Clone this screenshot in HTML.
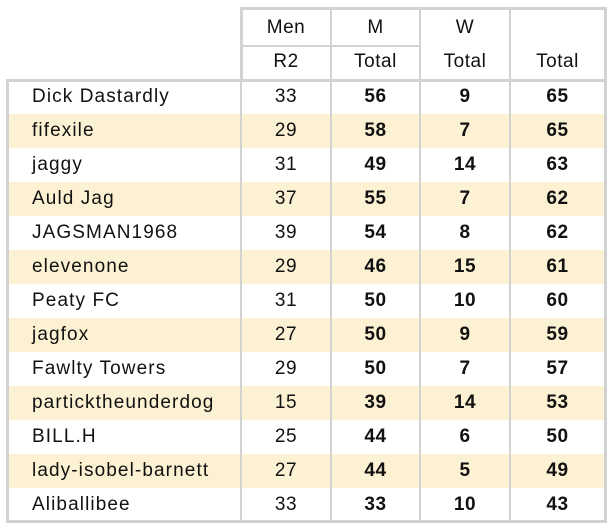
<!DOCTYPE html>
<html><head><meta charset="utf-8"><style>
body{margin:0;width:610px;height:528px;background:#fff;font-family:"Liberation Sans",sans-serif;font-size:19px;color:#111;position:relative;overflow:hidden}
.b{position:absolute;background:#d2d2d2}
.t{position:absolute;height:34px;line-height:34px;text-align:center;letter-spacing:0.5px}
.s{position:absolute;left:9px;width:595px;height:34px;background:#fcf1d2}
.n{position:absolute;left:32px;height:34px;line-height:34px;letter-spacing:1.1px}
.bold{font-weight:bold}
</style></head><body>
<div class="s" style="top:114px"></div>
<div class="s" style="top:182px"></div>
<div class="s" style="top:250px"></div>
<div class="s" style="top:318px"></div>
<div class="s" style="top:386px"></div>
<div class="s" style="top:454px"></div>
<div class="b" style="left:240px;top:7px;width:367px;height:3px"></div>
<div class="b" style="left:240px;top:7px;width:3px;height:73px"></div>
<div class="b" style="left:604px;top:7px;width:3px;height:516px"></div>
<div class="b" style="left:243px;top:45px;width:177px;height:2px"></div>
<div class="b" style="left:6px;top:79px;width:601px;height:3px"></div>
<div class="b" style="left:6px;top:79px;width:3px;height:444px"></div>
<div class="b" style="left:6px;top:520px;width:601px;height:3px"></div>
<div class="b" style="left:240px;top:7px;width:2px;height:516px"></div>
<div class="b" style="left:330px;top:7px;width:2px;height:516px"></div>
<div class="b" style="left:419px;top:7px;width:2px;height:516px"></div>
<div class="b" style="left:509px;top:7px;width:2px;height:516px"></div>
<div class="t" style="left:242px;width:88px;top:11px">Men</div>
<div class="t" style="left:242px;width:88px;top:45px">R2</div>
<div class="t" style="left:332px;width:87px;top:11px">M</div>
<div class="t" style="left:332px;width:87px;top:45px">Total</div>
<div class="t" style="left:421px;width:88px;top:11px">W</div>
<div class="t" style="left:421px;width:88px;top:45px">Total</div>
<div class="t" style="left:511px;width:93px;top:45px">Total</div>
<div id="rows"></div>
<script>
var d=[["Dick Dastardly",33,56,9,65],["fifexile",29,58,7,65],["jaggy",31,49,14,63],["Auld Jag",37,55,7,62],["JAGSMAN1968",39,54,8,62],["elevenone",29,46,15,61],["Peaty FC",31,50,10,60],["jagfox",27,50,9,59],["Fawlty Towers",29,50,7,57],["particktheunderdog",15,39,14,53],["BILL.H",25,44,6,50],["lady-isobel-barnett",27,44,5,49],["Aliballibee",33,33,10,43]];
var h="";
d.forEach(function(r,i){var y=80+i*34;
h+='<div class="n" style="top:'+y+'px">'+r[0]+'</div>';
h+='<div class="t" style="left:242px;width:88px;top:'+y+'px">'+r[1]+'</div>';
h+='<div class="t bold" style="left:332px;width:87px;top:'+y+'px">'+r[2]+'</div>';
h+='<div class="t bold" style="left:421px;width:88px;top:'+y+'px">'+r[3]+'</div>';
h+='<div class="t bold" style="left:511px;width:93px;top:'+y+'px">'+r[4]+'</div>';});
document.getElementById("rows").innerHTML=h;
</script>
</body></html>
